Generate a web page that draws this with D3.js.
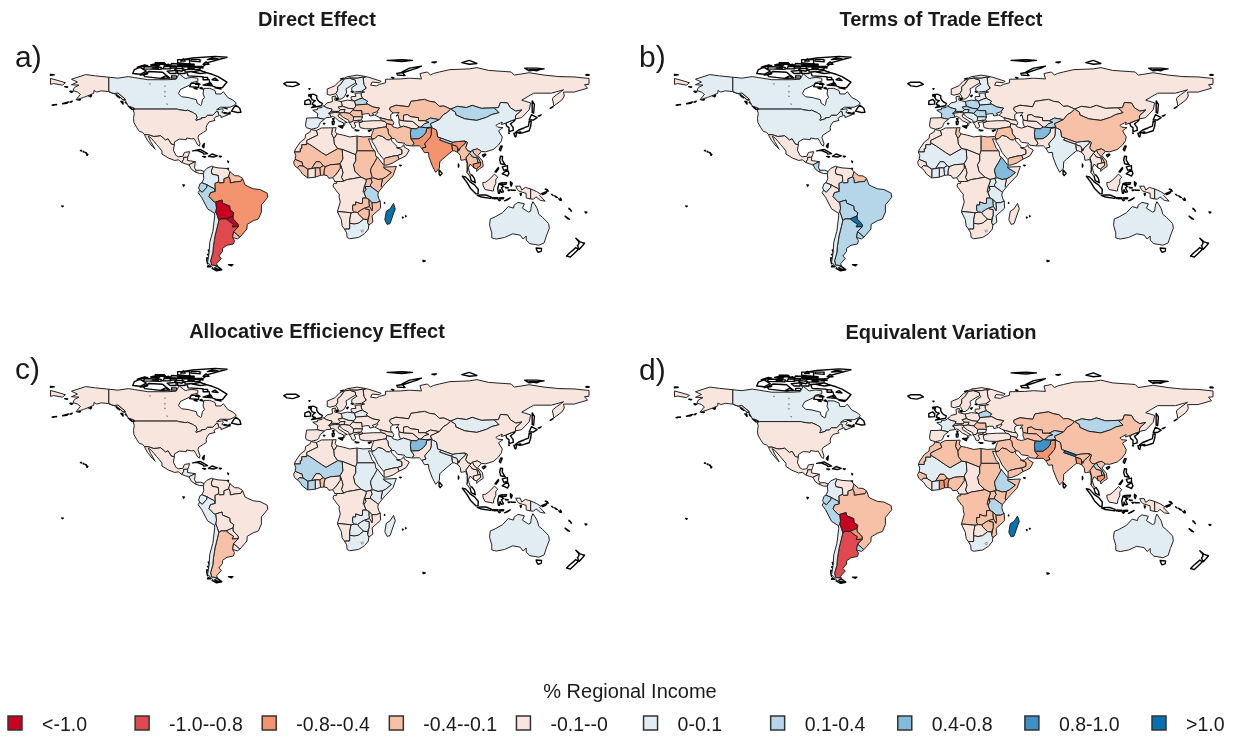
<!DOCTYPE html>
<html>
<head>
<meta charset="utf-8">
<script src="https://cdn.jsdelivr.net/npm/d3@7"></script>
<style>
  html, body { margin: 0; padding: 0; background: #fff; }
  svg { display: block; filter: blur(0.4px); }
  text { font-family: "Liberation Sans", Arial, sans-serif; fill: #1a1a1a; }
</style>
</head>
<body>
<div id="chart"></div>
<script>
// Legend classes
const classLabels = ["<-1.0", "-1.0--0.8", "-0.8--0.4", "-0.4--0.1", "-0.1--0", "0-0.1", "0.1-0.4", "0.4-0.8", "0.8-1.0", ">1.0"];
const classColors = ["#ca0020", "#e04a4e", "#f4946f", "#f7c1a8", "#f8e5dd", "#e1ecf3", "#b4d6e8", "#82bbdc", "#3f91c5", "#0571b0"];

const panelTitles = ["Direct Effect", "Terms of Trade Effect", "Allocative Efficiency Effect", "Equivalent Variation"];
const panelLetters = ["a)", "b)", "c)", "d)"];

const regionNames = [
  "Alaska", "Canada", "USA", "Mexico", "Central America N", "Nicaragua-Costa Rica", "Panama", "Colombia", "Venezuela", "Guianas", "Ecuador", "Peru", "Brazil", "Bolivia", "Paraguay", "Argentina", "Uruguay", "Chile",
  "Russia", "Kazakhstan", "Uzbekistan", "Turkmenistan", "Kyrgyz-Tajik", "Mongolia", "China", "India", "Nepal", "Bangladesh", "Myanmar", "Vietnam", "Laos", "Cambodia", "Thailand", "Pakistan", "Afghanistan", "Iran", "Turkey", "Caucasus", "Levant", "Saudi Arabia", "Oman", "Yemen",
  "Norway", "Sweden", "Finland", "Baltics", "Poland", "Belarus", "Ukraine", "Germany", "France", "Iberia", "Alpine", "Italy", "Czech-Hungary", "West Balkans", "Romania", "Bulgaria", "Greece",
  "Morocco", "West Sahel", "Algeria", "Tunisia", "Libya", "Egypt", "Sudan", "Chad-CAR", "Ethiopia", "Somalia", "Kenya", "Uganda", "Tanzania", "Rwanda", "Central Africa", "Cameroon", "Nigeria", "Benin-Togo", "Burkina", "Ghana", "Ivory Coast", "Guinea-Liberia", "Senegal", "Zambia", "Malawi", "Mozambique", "Zimbabwe", "Botswana", "Namibia", "South Africa", "Madagascar",
  "Borneo", "West New Guinea", "Papua New Guinea", "Australia"
];

// Class index of every region, same order as regionNames
const directEffect = [
  4,5,4,4,4,4,4,5,4,3,6,6,2,0,0,1,3,5,
  4,3,4,4,6,6,5,2,6,2,3,3,6,2,3,2,7,3,4,3,3,4,4,3,
  4,5,5,4,4,6,3,4,5,5,4,4,4,3,3,4,4,
  4,3,4,4,4,3,3,4,3,3,3,3,6,3,4,4,3,3,3,3,4,3,3,3,3,3,3,4,4,5,9,
  4,4,4,5
];
const termsOfTrade = [
  5,5,5,4,4,6,5,4,4,3,5,4,6,6,9,6,6,5,
  4,4,4,4,6,4,3,5,4,4,4,3,4,4,4,4,7,4,4,4,3,4,4,3,
  4,4,5,5,6,5,6,5,6,4,5,4,6,5,6,5,4,
  4,5,4,3,4,3,4,4,7,4,5,5,5,6,4,4,4,5,5,5,5,4,4,6,5,5,4,4,5,4,4,
  4,4,5,5
];
const allocativeEfficiency = [
  4,4,4,4,5,5,5,4,4,4,5,5,4,4,4,3,4,5,
  4,4,4,4,4,5,4,5,5,4,4,4,4,4,4,4,7,5,4,4,4,5,4,4,
  4,4,4,4,5,5,4,4,4,4,4,4,4,4,4,4,4,
  4,6,4,4,4,5,5,4,5,5,5,4,4,4,4,4,4,3,4,4,6,6,4,5,4,4,5,5,4,5,5,
  4,4,5,5
];
const equivalentVariation = [
  4,5,4,4,4,4,4,5,4,3,6,6,3,0,2,1,6,5,
  4,3,3,3,6,6,3,3,9,2,3,3,6,2,3,2,8,3,4,4,3,3,3,3,
  4,4,4,4,4,6,4,4,5,4,4,4,4,4,3,5,4,
  3,5,3,3,3,3,3,4,6,3,3,3,6,3,3,4,3,2,3,2,5,4,3,3,3,3,3,4,4,5,9,
  4,4,4,5
];

// Lon,lat outlines, same order as regionNames ("|" starts another ring)
const regionOutlines = [
  "-141,69.6 -141,60.3 -146,60.8 -149,60 -151,61 -151,59.3 -154,58 -158,56.5 -163,55 -160,58.5 -162,60 -165,61 -164,63 -161,64.5 -166,64.7 -162,66.5 -166,68.3 -156.5,71.3 -150,70.5|-141,60.3 -137.5,59 -135,59.5 -130,55.5 -131.5,55 -135,58 -139,59.5",
  "-141,69.6 -135,69 -128,70 -124,69.4 -115,68 -108,68 -102,68 -96,68.3 -94,71.8 -90,68.8 -85.5,69.5 -81.5,69 -81.5,67 -86,66 -87,64.5 -93,61.8 -94.5,59 -92.5,57 -88,56.5 -82.5,55.1 -82,52.9 -79.5,51.3 -79,52 -78.5,55 -77,56.5 -78,58.8 -77.5,62.4 -73.5,62.4 -70,61 -69.5,58.8 -66,58.8 -64.5,60.3 -61.5,56.5 -58,54.8 -55.8,53 -57,51.5 -60,50.2 -66.5,50.2 -69,48.5 -65,49.2 -64.5,48.2 -65.5,47 -64,46.2 -61,45.5 -66,43.5 -66,44.7 -67,44.9 -67.8,45.7 -68,47.3 -69.2,47.4 -70.3,46.2 -71.5,45 -75,45 -76.5,43.6 -79,43.4 -79,42.8 -82.7,41.7 -83.1,42.1 -82.5,42.6 -82.1,43.6 -82.5,45.3 -83.5,46 -84.5,46.5 -84.8,46.8 -88.4,48.3 -89.6,48 -92,48.3 -94.6,48.7 -95.2,49 -123,49 -125,50 -128,51 -130,54.5 -130,55.5 -135,59.5 -137.5,59 -141,60.3",
  "-124.7,48.4 -123,49 -95.2,49 -94.6,48.7 -92,48.3 -89.6,48 -88.4,48.3 -84.8,46.8 -84.5,46.5 -83.5,46 -82.5,45.3 -82.1,43.6 -82.5,42.6 -83.1,42.1 -82.7,41.7 -79,42.8 -79,43.4 -76.5,43.6 -75,45 -71.5,45 -70.3,46.2 -69.2,47.4 -68,47.3 -67.8,45.7 -67,44.9 -70,43.7 -70.7,42.7 -70,41.7 -74,40.7 -75.5,38.5 -76,37 -75.7,35.3 -77.8,34 -81,32 -81.4,30.5 -80.1,26.8 -80.4,25.2 -81.7,25.9 -82.8,28 -84,30 -85.5,29.7 -89,30.3 -89.4,29.1 -91.5,29.5 -94,29.6 -97.2,27.7 -97.2,25.9 -99.3,26.4 -101.4,29.8 -103.2,29 -104.9,30.6 -106.5,31.8 -108.2,31.5 -111,31.3 -114.8,32.5 -117.1,32.5 -118.5,34 -120.6,34.6 -122.4,37.2 -124.2,40.3 -124.5,43 -124,46.3",
  "-117.1,32.5 -114.8,32.5 -111,31.3 -108.2,31.5 -106.5,31.8 -104.9,30.6 -103.2,29 -101.4,29.8 -99.3,26.4 -97.2,25.9 -97.8,22.3 -96,19 -94.5,18.2 -91.5,18.5 -90.5,21 -87,21.5 -87.6,19.5 -88.2,18 -89.1,17.8 -91,17.8 -91,16.5 -92.2,14.5 -94.5,16.2 -97,15.8 -101.5,17.5 -105.5,20 -105.5,22 -109,26 -112.5,30 -114.7,31.6 -113,28 -110,23 -112,25 -115,28.5 -116.5,31",
  "-92.2,14.5 -91,16.5 -91,17.8 -89.1,17.8 -88.2,18 -88.5,15.8 -83.2,15 -87.5,13 -90,13.7",
  "-83.2,15 -83.7,11 -82.6,9.5 -83,8.3 -85.7,10 -87.5,13",
  "-82.6,9.5 -79.5,9.5 -77.3,8.7 -77.8,7.3 -80.3,7.3 -83,8.3",
  "-77.3,8.7 -75.5,10.7 -72,12.2 -71.3,11.7 -72.5,9 -72,7 -67.8,6.2 -67.5,2 -70,1 -69.8,-4.2 -70.5,-2.5 -73.5,-1 -75.2,0 -78.8,1.4 -77.5,4 -77.8,7.3",
  "-71.3,11.7 -68,11 -62,10.6 -60,8.5 -60.5,6.8 -61,5 -60.7,5.2 -64,4 -64,1.5 -67,1.2 -67.5,2 -67.8,6.2 -72,7 -72.5,9",
  "-60,8.5 -57,6 -54,5.8 -51.6,4.2 -52.7,2.3 -56,2 -59.8,1.3 -60,3.5 -60.7,5.2 -61,5 -60.5,6.8",
  "-78.8,1.4 -75.2,0 -75.5,-1.5 -78.5,-4.8 -80.3,-3.4 -81,-2 -80,0.8",
  "-75.2,0 -73.5,-1 -70.5,-2.5 -69.8,-4.2 -73,-5 -74,-7.5 -70.6,-11 -69.5,-11 -69,-15 -69.5,-17.5 -70.4,-18.3 -75,-15.5 -79,-8 -81.3,-5 -80.3,-3.4 -78.5,-4.8 -75.5,-1.5",
  "-51.6,4.2 -50,0 -48,-1 -44.5,-2.5 -40,-3 -35.2,-5.3 -34.8,-8 -39,-13 -39,-17.5 -41,-22 -44.5,-23.2 -48.5,-25.5 -48.7,-28.5 -53.4,-33.8 -57.6,-30.2 -54.5,-27 -54.6,-25.5 -55.8,-24 -58,-22 -58,-20 -57.5,-18 -60,-16.2 -60.2,-13.7 -65,-11.8 -65.3,-9.8 -69.5,-11 -70.6,-11 -74,-7.5 -73,-5 -69.8,-4.2 -70,1 -67.5,2 -67,1.2 -64,1.5 -64,4 -60.7,5.2 -60,3.5 -59.8,1.3 -56,2 -52.7,2.3",
  "-69.5,-11 -65.3,-9.8 -65,-11.8 -60.2,-13.7 -60,-16.2 -57.5,-18 -58,-20 -62.6,-22 -66,-22 -67.5,-23 -68.5,-20 -69.5,-17.5 -69,-15",
  "-58,-20 -58,-22 -55.8,-24 -54.6,-25.5 -54.5,-27 -58.6,-27.2 -57.7,-25.4 -60,-24 -62.6,-22",
  "-66,-22 -62.6,-22 -60,-24 -57.7,-25.4 -58.6,-27.2 -54.5,-27 -57.6,-30.2 -58.3,-34 -57,-36 -57.7,-38.2 -62,-39 -65,-41 -65,-43 -67.5,-46 -65.8,-47.5 -69,-51 -68.4,-52.3 -72.3,-51.8 -73,-49 -71.5,-44 -71,-39 -70,-33 -68.5,-27 -67.5,-23",
  "-57.6,-30.2 -53.4,-33.8 -55,-34.9 -58.3,-34",
  "-69.5,-17.5 -68.5,-20 -67.5,-23 -68.5,-27 -70,-33 -71,-39 -71.5,-44 -73,-49 -72.3,-51.8 -68.4,-52.3 -71,-54 -75,-50 -74,-44 -73.5,-37 -71.5,-30 -70.2,-20 -70.4,-18.3",

  "31,70 33,69.5 41,67 40,66 35,66.5 34,64.5 38,64 40,65 44,66 44,68.3 54,68.5 60,69 68,68.5 67,72 72,73 74,71 76,72 80,73 87,74.5 100,75 105,75.8 113,74 128,73 130,71 140,72.5 150,71 160,70 170,69.8 178,69 180,68.8 180,65 177,64.8 179,62.5 170,60 163,60 163.5,57.5 162,55 156.5,51 155.5,56 158,58 163,61.5 155,59.3 143,59.3 135,54.8 141,53 140,48.5 135,43.5 131,42.7 130.7,42.3 131,45 135,48.4 131,47.7 127.5,49.8 125.5,53 120.8,53.3 119.5,50 116.7,49.8 108,49.5 102,51.4 98,50 92,50.8 87.5,49 83,51 80,50.8 77,53.5 73.5,54 70,55.3 61,54 59.5,50.5 51,51.5 47,50 46.8,48.5 49,46.5 47.5,45.5 47.5,43 48.5,41.8 46,42 40,43.5 37,45 39,47 38,47.2 40,49.6 35.5,50.4 32,52.2 31,53 32,54 28.5,56 27.8,57.5 27.5,59.5 30,60 28,60.5 31,62.5 29.5,65 29,69|-180,68.8 -175,67.5 -170,66 -172,64.5 -178,65.5 -180,65",
  "51,51.5 59.5,50.5 61,54 70,55.3 73.5,54 77,53.5 80,50.8 83,51 87.5,49 85.5,47 82.5,45.3 80,42.2 74,43.2 70.5,41.5 66,41.5 66,43.5 61,44 58.5,45.5 56,45 56,41.3 53,42 52.5,45 51,44.5 53,46.8 49,46.5 46.8,48.5 47,50",
  "56,45 58.5,45.5 61,44 66,43.5 66,41.5 70.5,41.5 73,40.5 70,39.5 67.5,37.3 66.5,37.4 62,41 56,41.3",
  "53,42 56,41.3 62,41 66.5,37.4 64.5,36.2 61,36.5 56,38 54,37.3 53,40",
  "70.5,41.5 74,43.2 80,42.2 74,39.5 75,37.4 71,37 67.5,37.3 70,39.5 73,40.5",
  "87.5,49 92,50.8 98,50 102,51.4 108,49.5 116.7,49.8 119.9,46.7 115,45.5 111.5,43.7 105,41.7 97,42.7 91,45.2 90.7,47",
  "80,42.2 82.5,45.3 85.5,47 87.5,49 90.7,47 91,45.2 97,42.7 105,41.7 111.5,43.7 115,45.5 119.9,46.7 116.7,49.8 119.5,50 120.8,53.3 125.5,53 127.5,49.8 131,47.7 135,48.4 131,45 130.7,42.3 128,41.5 124.4,40 121.5,39 122,40.6 119,39.2 117.8,38.5 119,37.3 122.5,37 119.5,35 122,31 121.5,28.5 119,25.3 116,22.9 111,21.4 108,21.6 106.7,22.6 105.3,23.3 102,22.4 101.2,21.5 99,22 97.5,24 98.7,27.5 97,28.3 92,28 88.8,27.5 81,30.2 78.8,31 78,35.5 74.5,37.2 75,37.4 74,39.5",
  "74.5,37.2 78,35.5 78.8,31 81,30.2 80.2,29 88,26.4 88.8,27.5 92,28 97,28.3 97.5,27 94,24 93,22 92.3,23.5 91.5,25 88.3,26 88.8,22 86.7,20.5 82,16.5 80.2,15 80,10.8 77.5,8.1 75.5,11.8 73,18 72.7,21 70,20.8 69,22.5 68.2,23.7 71,24.5 70,26.5 74,31 74.5,33",
  "80.2,29 81,30.2 88.8,27.5 88,26.4",
  "88.3,26 91.5,25 92.3,23.5 92.3,21 90,22 88.8,22",
  "92.3,21 92.3,23.5 93,22 94,24 97.5,27 97,28.3 98.7,27.5 97.5,24 99,22 101.2,21.5 100,20.3 97.8,17.5 98.8,14 99,11 98.5,8 98.5,14 97.5,16.5 95.5,16 94.3,16 94,19",
  "102,22.4 105.3,23.3 106.7,22.6 108,21.6 105.7,19 108.8,15.5 109.3,12 106.7,10.4 105,8.7 104.9,10.3 106,11.5 107.5,12.5 107.5,14.5 105.5,18 103,20.5",
  "101.2,21.5 102,22.4 103,20.5 105.5,18 107.5,14.5 105.8,14.2 105,17.5 102,18 101,19.5 100,20.3",
  "105.8,14.2 107.5,14.5 107.5,12.5 106,11.5 104.9,10.3 103,11 102.5,13.5",
  "100,20.3 101,19.5 102,18 105,17.5 105.8,14.2 102.5,13.5 103,11 102,12.3 100.5,13.4 99.3,11 99.8,9.3 100.5,7 102,6.2 100.3,5.6 98.5,8 99,11 98.8,14 97.8,17.5",
  "74.5,37.2 74.5,33 74,31 70,26.5 71,24.5 68.2,23.7 66.5,25.3 61.6,25.2 63,27 60.9,29.8 66.3,29.9 69.3,31.9 71,34 71.5,36.5",
  "60.9,29.8 66.3,29.9 69.3,31.9 71,34 71.5,36.5 74.5,37.2 71,37 67.5,37.3 66.5,37.4 64.5,36.2 61,36.5 60.6,33.5",
  "44.8,39.7 48,39 49,37.5 52,36.7 54,37.3 56,38 61,36.5 60.6,33.5 60.9,29.8 63,27 61.6,25.2 57.5,25.7 56.5,27 52,27.5 50,30 48.5,30 46,33 45.5,36 44.3,37.5",
  "26.3,40 27,37 30.5,36.3 36,36.2 42,37.2 44.3,37.5 44.8,39.7 43.5,41.1 41.5,41.5 36,41.5 31,41.2 29,41.1|26.2,41.8 28,42 29,41.1 26.3,40.3",
  "40,43.5 46,42 48.5,41.8 49.5,40.3 48.9,38.5 48,39 44.8,39.7 43.5,41.1 41.5,41.5",
  "36,36.2 42,37.2 44.3,37.5 45.5,36 46,33 48.5,30 47.7,30.1 46.5,29 44.7,29.2 42,31.2 39,32 37,30 35,29.5 34.3,31.3 35.7,35",
  "48,28.5 50,26.5 51.5,25 51.5,24 54,24 55,22.7 55,20 52,19 49,18.6 44,17.4 43,16.6 42.7,16.5 39,21 37,25 35,28 35,29.5 37,30 39,32 42,31.2 44.7,29.2 46.5,29 47.7,30.1",
  "51.5,24 54,24 56.3,26 56.5,24.5 59.8,22.5 57.8,19 55,17.5 53,16.7 52,19 55,20 55,22.7",
  "43,12.8 45,12.8 49,14.2 53,16.7 52,19 49,18.6 44,17.4 43,16.6",

  "5,58.5 7,58 10.7,59 12,61 12,63.5 14,65 16.5,68.5 20,69 25,69 29,69.7 31,70 25,71 18,69.8 13,67 10,64 5,62",
  "10.7,59 12,61 12,63.5 14,65 16.5,68.5 20,69 23.8,67.8 24,65.8 21.5,64.5 17.5,62 18,60 16.5,57 14.3,55.5 12.8,55.5 11.5,58",
  "20,69 25,69 29,69.7 29,69 29.5,65 31,62.5 28,60.5 23,60 21.3,61 21.5,63 25,65.2 24,65.8 23.8,67.8",
  "21,57 24.2,57.2 23.5,59.2 27.5,59.5 27.8,57.5 28.5,56 26.5,55.5 23.3,54.2 21,55.3",
  "14.2,53.9 18.5,54.8 23.3,54.2 24,51.6 24,50.8 22.7,49.2 19,49.5 15,50.9 14.7,52.5",
  "23.3,54.2 26.5,55.5 28.5,56 32,54 31,53 32,52.2 24,51.6",
  "24,51.6 32,52.2 35.5,50.4 40,49.6 38,47.2 35,46.2 36.5,45.2 33.5,44.5 33,46 30.5,46 28.2,45.5 28,48 24,48 22.2,48.5 22.7,49.2 24,50.8",
  "3.4,51.4 4.8,53 8.5,53.8 8.2,57 10.5,57.5 10,54.8 14.2,53.9 14.7,52.5 15,50.9 12.3,50.2 13.8,48.7 13,47.5 9.7,47.5 7.6,47.6 8.2,49 6,49.5 4.2,50 2.6,51.1",
  "2.6,51.1 4.2,50 6,49.5 8.2,49 7.6,47.6 6,46.2 7,45.5 7.5,43.8 4,43.4 3.1,42.4 -1.8,43.4 -1.2,46 -4.7,48.3 -1.5,48.7 -1.5,49.7 1.5,50",
  "-1.8,43.4 3.1,42.4 0.5,40.5 -0.3,39 -0.7,37.7 -2,36.8 -5.5,36 -9,37 -9.5,38.8 -8.8,43.2",
  "6,46.2 7.6,47.6 9.7,47.5 13,47.5 13.8,48.7 17,48.7 16.2,46.8 13.7,46.5 10.5,46.8",
  "7,45.5 6,46.2 10.5,46.8 13.7,46.5 13.5,45.7 12.3,45.2 12.5,44 16,41.8 18.5,40.2 17,40.5 16.6,38.5 15.7,38 16,40 12.5,41.5 10.3,43.5 8.5,44.3 7.5,43.8",
  "12.3,50.2 15,50.9 19,49.5 22.7,49.2 22.2,48.5 20,46.2 16.2,46.8 17,48.7 13.8,48.7",
  "13.7,46.5 16.2,46.8 20,46.2 22.7,44 22.5,42.2 22.5,41.4 20.9,40.5 19.5,40.5 19.4,41.8 16,43.5 13.7,45.2 13.5,45.7",
  "22.2,48.5 24,48 28,48 28.2,45.5 28.6,43.7 27,44 22.7,44 20,46.2",
  "22.7,44 27,44 28.6,43.7 27.8,42 26.2,41.8 22.5,41.4 22.5,42.2",
  "20.9,40.5 22.5,41.4 26.2,41.8 26,40.8 23,40.3 24,38 23,36.5 21.5,37 21,38.5 19.5,40.5",

  "-5.9,35.8 -2.2,35.1 -1.3,32.2 -5,30.5 -8.7,28.7 -8.7,27.3 -8.7,26 -12,26 -12,23.5 -13,23.3 -13,21.3 -17,21.3 -16,23.5 -13,27.7 -9.8,30 -9.5,32.5 -6.5,34.3",
  "-17,21.3 -13,21.3 -13,23.3 -12,23.5 -12,26 -8.7,26 -8.7,27.3 -4.8,25 1.2,21 4.2,19.2 12,23.5 15,23 15.5,16.8 13.6,13.7 13.2,13.5 7,13 3.6,11.7 2.2,12.5 0.2,14.9 -2.5,15 -5.5,10.5 -8,10.2 -11.3,12.3 -12,15 -12.3,14.8 -16.5,16.5 -16,19",
  "-2.2,35.1 1,36.8 8.6,36.9 8,33 9.5,30 9.8,26.5 12,23.5 4.2,19.2 1.2,21 -4.8,25 -8.7,27.3 -8.7,28.7 -5,30.5 -1.3,32.2",
  "8.6,36.9 11,37 10.3,34.5 11.5,33 10,30.5 9.5,30 8,33",
  "11.5,33 15.2,32.3 20,31 25,31.6 25,22 24,19.5 15,23 12,23.5 9.8,26.5 9.5,30 10,30.5",
  "25,31.6 29,31 34.3,31.3 35,29.5 32.6,29.8 35,24 36.9,22 25,22",
  "25,22 36.9,22 37.5,18.5 38.6,18 36.5,14.3 34.2,10.5 34,9 34.9,5.5 34,4.2 30.9,3.5 27.5,5 23.5,8.7 23,11 22.5,13 24,15.5 24,19.5",
  "15,23 24,19.5 24,15.5 22.5,13 23,11 23.5,8.7 27.5,5 22,4 18.5,3.5 16,2.5 14.5,4.8 15.5,7.8 15,10 13.6,13.7 15.5,16.8",
  "36.5,14.3 38.6,18 43,12.5 42.8,11 48,8 44,4.9 41.9,3.9 39,3.5 36,4.5 34.9,5.5 34,9 34.2,10.5",
  "43,11.5 51.2,11.9 49,6 44,1 41.6,-1.7 41,-0.9 41.9,3.9 44,4.9 48,8 42.8,11",
  "34,4.2 36,4.5 39,3.5 41.9,3.9 41,-0.9 41.6,-1.7 39.2,-4.7 34,-1 33.9,0.1 35,1.9",
  "30.9,3.5 34,4.2 35,1.9 33.9,0.1 34,-1 30.5,-1 29.6,-1.5 31,2.2",
  "30.5,-1 34,-1 39.2,-4.7 38.8,-6.5 39.5,-9 40.4,-10.4 38,-11.5 34.9,-11.5 33,-9.5 31,-8.5 29.5,-5 30.8,-3",
  "29.6,-1.5 30.5,-1 30.8,-3 29.5,-5 29,-4.5",
  "16,2.5 18.5,3.5 22,4 27.5,5 30.9,3.5 31,2.2 29.6,-1.5 29,-4.5 29.5,-5 31,-8.5 28.7,-8.5 28.5,-12 27,-12 24,-11 24,-13 22,-13 22,-16.5 23.4,-17.6 20.9,-18 13.5,-17.3 11.8,-17.3 13.7,-11 13,-8 13,-5.8 12,-5 8.8,-0.7 9.5,1 11.3,1 11.3,2.2 14,2.2",
  "8.6,4.6 9.8,3 9.8,2.2 11.3,2.2 14,2.2 16,2.5 14.5,4.8 15.5,7.8 15,10 13.6,13.7 13.7,10.8 11,7",
  "2.8,6.4 5,6 6,4.3 8.6,4.6 11,7 13.7,10.8 13.6,13.7 13.2,13.5 7,13 3.6,11.7 2.8,9",
  "0.5,6.2 2.8,6.4 2.8,9 3.6,11.7 2.2,12.5 0,11",
  "-2.5,15 0.2,14.9 2.2,12.5 0,11 -3,11 -5.5,10.5",
  "-3,5 0.5,6.2 0,11 -3,11",
  "-8,4.5 -3,5 -3,11 -5.5,10.5 -8,10.2",
  "-13.2,9.5 -11.5,7 -8,4.5 -8,10.2 -11.3,12.3 -13.7,12.5 -15,11",
  "-16.5,16.5 -12.3,14.8 -12,15 -11.3,12.3 -13.7,12.5 -15,11 -16.8,12.5 -17.5,14.7",
  "24,-11 27,-12 28.5,-12 28.7,-8.5 31,-8.5 33,-9.5 33,-12 33.3,-14 30,-15 28,-16 25.3,-17.8 23.4,-17.6 22,-16.5 22,-13 24,-13",
  "33,-9.5 34.9,-11.5 35.3,-15 35,-16.8 33.3,-14 33,-12",
  "34.9,-11.5 38,-11.5 40.4,-10.4 40.7,-15 35,-20 35.5,-24 32.8,-26 32,-24.5 33,-19.5 33,-16 30.4,-15.6 30,-15 33.3,-14 35,-16.8 35.3,-15",
  "25.3,-17.8 28,-16 30,-15 30.4,-15.6 33,-16 33,-19.5 32,-22.4 29.3,-22.2 26,-19",
  "20,-22 20.9,-18 23.4,-17.6 25.3,-17.8 26,-19 29.3,-22.2 26,-24.7 23,-25.3 20,-24.8",
  "11.8,-17.3 13.5,-17.3 20.9,-18 20,-22 20,-24.8 20,-28.5 16.5,-28.6 15,-26.5 14.4,-22.5",
  "16.5,-28.6 20,-28.5 20,-24.8 23,-25.3 26,-24.7 29.3,-22.2 32,-22.4 32,-24.5 32.8,-26 32.5,-28.5 30,-31.5 26,-34 20,-34.8 18.3,-34 18,-31",
  "49.3,-12 50.5,-15.5 49.5,-18 47,-25 45,-25.5 43.5,-22.5 44.5,-17 47,-15.5",

  "109,1.5 111,1.8 113,3.2 116.8,7 119,5 117.7,3.5 117.7,1 116.5,-1.5 116,-4 110.5,-3 109.2,-0.5",
  "131,-0.8 134,-0.8 135,-3.3 137.5,-1.6 141,-2.6 141,-9.1 138,-8.4 138,-5.5 133,-4 132,-2.8",
  "141,-2.6 145,-4.3 147.8,-6 147,-6.8 150.7,-10.5 147.5,-10 144.5,-7.7 143,-9.2 141,-9.1",
  "114,-22 113.5,-26 115,-31 115,-34.3 118,-35 123.5,-34 129,-31.6 134,-32.5 136,-35 138,-33 138,-35.6 140.5,-38 144,-38.5 146.5,-39 150,-37.5 151.5,-33 153.5,-28 153,-25 149,-21 146.5,-19 145.3,-15 142.5,-10.8 141.5,-13 141,-17 139.5,-17.5 135.5,-15 136.8,-12.2 132.5,-11.3 130,-13 129.5,-15 126,-14 122.2,-18 117,-20.8"
];

// Islands and small places with no value, left unfilled
const islandOutlines = [
  // Canadian arctic
  "-80,73.7 -72,71.5 -68,70 -62,66.5 -65,63 -68,62.5 -72,64 -78,64.5 -73.5,66 -74,68 -79,70 -88,70.5 -89,73 -81,73.5",
  "-117,70 -105,68.7 -101,69.5 -105,72.8 -114,73.3 -118,71.5", "-125,72 -120,71.5 -116,73.5 -120,76 -124,74.5",
  "-90,76.5 -78,76.5 -75,79 -62,82.5 -70,83.1 -85,82 -92,81", "-92,74.5 -80,74.7 -80,75.7 -92,76.5",
  "-118,75 -106,74.7 -106,76 -117,76.5", "-95,79 -87,78 -87,81 -95,81", "-95,72 -90,72 -90,74 -95,74",
  "-100,72 -96,72 -96,74 -102,73.5", "-87,63.5 -81,63 -81,65.5 -86,65.8", "-122,76 -115,77 -117,77.5 -121,76.5",
  "-105,75 -100,75 -98,76.5 -104,76.5", "-100,77 -93,76.5 -92,78 -99,78.5", "-110,78 -103,78 -104,79 -110,79",
  "-99,69 -95,69 -96,70.5 -99,70.5", "-83,65 -80,65 -82,66", "-78,68 -75,68 -75,69.5 -78,69.5", "-97,74.5 -92,73.5 -91,75 -96,75.5",
  "-113,77.5 -108,76.5 -107,77.5 -111,78", "-100,75.5 -96,75.5 -96,76.5 -100,76.5", "-90,77.5 -84,77 -84,78 -90,78.3", "-82,76 -78,75.6 -79,76.5",
  "-85,73 -80,72 -76,72.5 -80,74", "-95,76.8 -90,76.5 -90,77.5 -95,77.5", "-120,71 -116,71.5 -115,72", "-106,69 -100,69 -103,70.5",
  "-75,65 -72,64.5 -73,66", "-70,62.7 -66,62 -68,63", "-80,62.5 -78,62 -79,63", "-84,62.5 -82,62 -83,63", "-112,75.5 -108,75.3 -109,76", "-86,80 -80,79.5 -80,81 -86,81",
  "-75,81 -68,81.5 -72,82.3", "-78,78 -74,78 -76,79.5", "-93,80 -90,80 -91,81.5", "-104,77.3 -100,77.2 -101,78", "-88,75 -84,74.8 -84,75.5 -88,75.7", "-72,68 -68,67.5 -70,69",
  "-59,47.7 -55,46.8 -52.7,47 -53.5,49.5 -56,51.5 -57.5,50", "-64.5,49.9 -62,49.5 -62,49.1", "-64,46.9 -62,46.5 -64,46.2",
  "-61.5,46 -60,47 -60,45.8", "-128,50.8 -125,50 -123.5,48.5 -125.5,48.8", "-133,54 -131.7,54 -131.5,52.2", "-134,56.3 -132,57 -133,58 -135,58",
  "-130,53.5 -128.5,53 -128,52 -129,52.5", "-132,55.5 -130.5,54.8 -131,55.5", "-133.5,57 -132,56 -132.5,57.2", "-136,58 -134,57.5 -135,57",
  // Alaska and Aleutians
  "-178,51.7 -176,52 -176,51.7", "-172,52.5 -168,53.6 -169,52.8", "-167,53.5 -165.5,54.2 -166,53.5", "-162,55 -160,55.2 -160.5,54.8", "-154.5,57.5 -152.5,58.2 -153,57",
  "-170.5,63.5 -168.5,63.3 -169,63", "-167,60.5 -165,60.3 -166,59.8", "-179,51.6 -177.5,51.9 -178,51.5",
  // Hawaii and Pacific dots
  "-160,22.2 -159.3,22.2 -159.5,21.9", "-158.2,21.7 -157.7,21.6 -158,21.3", "-157,21 -156,20.8 -156.4,20.6", "-155.9,20.2 -155,19.8 -155.6,19",
  "-172.5,-13.6 -171.5,-13.8 -172,-14.1", "-91.5,0 -90.5,0 -91,-0.8",
  // Caribbean
  "-85,22 -80,23 -75,20.3 -77.5,19.9 -78,20.7 -82,22.4", "-74.4,18.5 -72,20 -68.5,18.8 -71,18", "-78.3,18.4 -76.3,18.2 -77,17.8", "-67.2,18.5 -65.7,18.4 -66.5,18",
  "-78.5,25 -77.2,26.8 -77.5,24", "-61.5,15.5 -60.9,15 -61.2,14.5", "-61.7,10.7 -61,10.7 -61.2,10.1",
  // South America
  "-68.5,-52.7 -65.5,-54.8 -69,-55.5 -72,-54", "-70,-54 -66.5,-54.8 -69,-55", "-61,-51.5 -58,-51.5 -59,-52.3", "-74.5,-42 -73.5,-42 -73.5,-43.3 -74.2,-43.3", "-75.5,-47 -74,-48 -75,-51 -75.5,-49", "-75,-45 -73.5,-44.5 -74,-46", "-74.5,-52 -73,-53 -75,-53",
  // North Atlantic and Europe
  "-24,65.5 -22,66.4 -16,66.4 -13.6,65 -18,63.5 -22,64", "-7.2,62.2 -6.5,62.2 -6.9,61.8",
  "-5.5,50 1.3,51.2 1.7,52.7 0,53.5 -1.5,55 -2,56 -2,57.5 -4,58.6 -5.5,58.5 -6,56.5 -5,55 -3,54.5 -4.5,53.3 -5,52 -3,51.4",
  "-10,52 -6.2,52.2 -6,54 -7.5,55.3 -10,54.2", "-7.5,58.2 -6.3,58.4 -7.2,57.2", "-6.5,57.5 -5.8,57.4 -6,57",
  "12.5,38 15.6,38.2 15.1,36.7", "8.3,41 9.7,41 9.5,39.2 8.5,39", "8.7,42.8 9.5,42.8 9.2,41.5", "23.5,35.5 26.2,35.2 24.5,35", "32.5,35 34.5,35.6 33,34.6",
  "11,56 12.5,56 12.2,55.2 11,55.4", "18,57.5 19,58 18.5,57", "2.5,39.7 3.4,39.8 3,39.3", "21,60.3 22.5,60.3 22,59.8", "14,68.5 16,69 15,68", "19,70 21,70 20,69.7",
  // Arctic Russia
  "52,71 55,70.8 57,70.7 55,73 60,75.5 68,76.8 65,75.5 57,73 51.5,72", "48,69.5 49.5,69.3 49,68.8", "45,80.5 55,81 62,80.5 55,79.8", "75,79.3 78,79.5 77,79", "95,79 100,80.5 105,78.5 100,78",
  "137,75.5 145,75.5 150,75 140,73.7", "140,74.5 145,73.8 147,74.5", "178,71.4 180,71.2 180,70.8 178,70.9", "160,69.8 163,69.6 161,69.3", "-180,71.4 -177.5,71.2 -180,70.8",
  // East Asia
  "142,54.3 143.5,52 143,46.5 142,46.8 142,51", "124.4,40 128,41.5 130.7,42.3 129.5,40.8 127.5,39.5 129.3,37 129.3,35.2 126.5,34.4 126.5,37 125,38",
  "130.9,34 135,33.5 140,35 141,38 141.4,41 140,41 139.5,38 136.5,36.8 133,35.5", "140,42 141.5,45.4 145.3,43.5 143,42", "129.8,33.5 131.7,33.5 131,31 130.3,31.5", "132.5,34 134.5,34.2 134,33.3",
  "108.7,19.3 110.5,20 111,19.5 109.5,18.2", "120,23 121,25.2 122,25 120.8,22", "126.2,33.5 126.9,33.5 126.5,33.2", "146,44.5 148,45.3 147,44.5", "154,49.5 156,50.6 155.2,50",
  // South East Asia
  "120.3,16 120.8,18.5 122.2,18.4 122,16 124,13 121,13.7", "122,7.2 125.5,9.7 126.5,7.5 125.5,5.7 124,6.5", "122,11.7 125.5,12.5 125.5,10 123,9.5", "117.2,8.5 119.5,11.3 119.5,10.5 118,8.3",
  "100.3,6.3 102,6.2 103.4,4 104,1.4 101.3,2.8", "95.3,5.6 97.5,5.2 100.5,2 103.5,0 106,-3 105.8,-5.8 104.5,-5.8 101,-2.5 98.5,1.5", "105.3,-6.8 108.5,-6.5 111,-6.5 114.5,-7.7 114.3,-8.7 108,-7.8",
  "119.8,0.8 121,1.2 125,1.5 124.5,0.4 120.5,0.3 123,-1 121.5,-1.8 122.8,-4.5 121.5,-4.8 120.5,-3 120.2,-5.5 119.5,-5.4 119,-2.5",
  "115,-8.2 116,-8.2 115.5,-8.8", "116.2,-8.3 119,-8.3 119,-8.8 116.5,-9", "119.8,-8.5 123,-8.3 122.8,-8.9 120,-8.9", "123.5,-10.3 127.3,-8.4 125,-9.8", "119.3,-9.5 120.8,-9.8 120,-10.2",
  "127.5,2 128.7,1 128,-0.8 127.5,0.5", "127.9,-3.2 130.8,-3.5 128,-3.5", "125.8,-3.2 127.2,-3.2 126.5,-3.8", "124,-1.7 126,-1.8 125,-2", "134,-5.5 134.8,-5.6 134.4,-6.8",
  "79.8,9.7 81.8,7.5 80.5,6 79.8,7", "92.7,13.5 93,12.5 92.7,11.5",
  // Pacific and Indian ocean
  "148.3,-5.6 152,-4.2 151,-5.5 149,-6.3", "150.8,-2.7 152.8,-4 152,-3", "155,-6 156,-6.8 155.5,-6.6", "157,-7 159,-8.2 158,-8", "159.8,-9 161,-10 160.5,-9.8", "161,-8.5 161.6,-9.8 161,-9.5",
  "166.6,-15 167.2,-15.6 166.7,-15.7", "167.5,-16 168.3,-17 167.9,-16.8", "164,-20.2 167,-22.3 166,-22", "177.3,-17.5 178.6,-17.7 178,-18.2",
  "171.2,-34.5 174,-36.8 177,-37.7 175.5,-39.5 173.5,-41.6 172.3,-39.3 173.3,-38 173,-36.5", "171.2,-40.5 172.8,-41.7 169.5,-44.8 167.5,-46.6 165,-46 167,-44 169.5,-42",
  "144.7,-40.8 148.3,-41 148,-43 146,-43.6 145,-42", "55.3,-20.9 55.8,-21 55.5,-21.4", "57.3,-20 57.8,-20.2 57.5,-20.5", "43.3,-11.4 43.5,-11.9 43.2,-11.8", "69,-48.8 70.5,-49.2 69.3,-49.6",
  "53.4,12.7 54.5,12.6 54,12.3"
];

// Small lakes drawn over the land
const lakeOutlines = [
  "-104,64 -103,64 -103.5,63.5", "-104,60.5 -103,60.3 -103.6,59.8", "-104,57.5 -103,57.3 -103.5,56.8", "-114,65.5 -113,65.3 -113.6,64.9", "-102.5,52.5 -101.5,52.2 -102,51.8",
  "27.5,-29.5 29,-29 29,-30.3 28,-30.5"
];

const legendTitle = "% Regional Income";

const panelValues = [directEffect, termsOfTrade, allocativeEfficiency, equivalentVariation];

const width = 1233, height = 738;

// Map is a plain lon/lat grid
const xLon = d3.scaleLinear().domain([-180, 180]).range([50.5, 589]);
const yLat = d3.scaleLinear().domain([-55, 83]).range([270, 56.5]);

const projection = d3.geoTransform({
  point: function(lon, lat) { this.stream.point(xLon(lon), yLat(lat)); }
});
const path = d3.geoPath(projection);

const toFeature = (outline, name) => ({
  type: "Feature",
  properties: {name: name},
  geometry: {
    type: "MultiPolygon",
    coordinates: outline.split("|").map(ring => {
      const pts = ring.trim().split(" ").map(p => p.split(",").map(Number));
      pts.push(pts[0]);
      return [pts];
    })
  }
});

const regionFeatures = regionOutlines.map((d, i) => toFeature(d, regionNames[i]));
const islandFeatures = islandOutlines.map(d => toFeature(d, "island"));
const lakeFeatures = lakeOutlines.map(d => toFeature(d, "lake"));

const svg = d3.select("#chart").append("svg")
  .attr("width", width)
  .attr("height", height);

// Panels
const panelX = d3.scaleOrdinal().domain([0, 1, 2, 3]).range([0, 624, 0, 624]);
const panelY = d3.scaleOrdinal().domain([0, 1, 2, 3]).range([0, 0, 312, 312.5]);

panelValues.forEach((values, p) => {
  const g = svg.append("g")
    .attr("transform", "translate(" + panelX(p) + "," + panelY(p) + ")");

  g.selectAll(".island")
    .data(islandFeatures)
    .enter().append("path")
    .attr("class", "island")
    .attr("d", path)
    .attr("fill", "#fff")
    .attr("stroke", "#000")
    .attr("stroke-width", 1.4)
    .attr("stroke-linejoin", "round");

  g.selectAll(".region")
    .data(regionFeatures)
    .enter().append("path")
    .attr("class", "region")
    .attr("d", path)
    .attr("fill", (d, i) => classColors[values[i]])
    .attr("stroke", "#222")
    .attr("stroke-width", 1)
    .attr("stroke-linejoin", "round");

  g.selectAll(".lake")
    .data(lakeFeatures)
    .enter().append("path")
    .attr("class", "lake")
    .attr("d", path)
    .attr("fill", "#fff")
    .attr("stroke", "#777")
    .attr("stroke-width", 0.7);

  g.append("text")
    .attr("x", 317)
    .attr("y", 26)
    .attr("text-anchor", "middle")
    .attr("font-size", 20)
    .attr("font-weight", "bold")
    .text(panelTitles[p]);

  g.append("text")
    .attr("x", 15)
    .attr("y", 67)
    .attr("font-size", 30)
    .text(panelLetters[p]);
});

// Legend
const xLegend = d3.scaleLinear().domain([0, classLabels.length - 1]).range([8, 1152]);

svg.append("text")
  .attr("x", 630)
  .attr("y", 698)
  .attr("text-anchor", "middle")
  .attr("font-size", 20)
  .text(legendTitle);

const legend = svg.selectAll(".legend")
  .data(classLabels)
  .enter().append("g")
  .attr("class", "legend")
  .attr("transform", (d, i) => "translate(" + xLegend(i) + ",716)");

legend.append("rect")
  .attr("width", 14)
  .attr("height", 14)
  .attr("fill", (d, i) => classColors[i])
  .attr("stroke", "#333")
  .attr("stroke-width", 1.5);

legend.append("text")
  .attr("x", 34)
  .attr("y", 15)
  .attr("font-size", 19.5)
  .text(d => d);
</script>
</body>
</html>
